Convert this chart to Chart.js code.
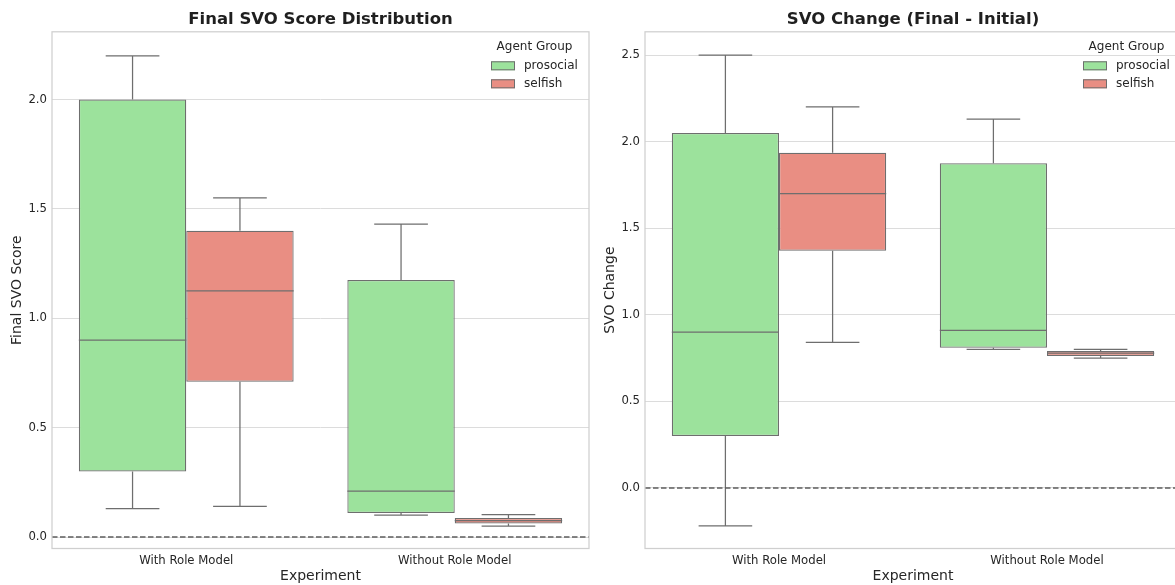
<!DOCTYPE html>
<html>
<head>
<meta charset="utf-8">
<script src="https://cdn.jsdelivr.net/npm/chart.js@4.4.0/dist/chart.umd.min.js"></script>
<style>
  html, body { margin: 0; padding: 0; background: #ffffff; overflow: hidden; width: 1175px; height: 585px; }
  #wrap { position: relative; width: 1175px; height: 585px; overflow: hidden; }
  .panel { position: absolute; top: 0; height: 585px; }
  #p1 { left: 0; width: 595px; }
  #p2 { left: 595px; width: 592px; }
</style>
</head>
<body>
<div id="wrap">
  <div class="panel" id="p1"><canvas id="c1" width="595" height="585"></canvas></div>
  <div class="panel" id="p2"><canvas id="c2" width="592" height="585"></canvas></div>
</div>
<script>
// ---- data ----
const experiments = ['With Role Model', 'Without Role Model'];
const groups = ['prosocial', 'selfish'];
const legendTitle = 'Agent Group';
// five-number summaries per experiment: [whisker low, Q1, median, Q3, whisker high]
const finalProsocial = [[0.13, 0.30, 0.90, 2.00, 2.20], [0.10, 0.11, 0.21, 1.175, 1.43]];
const finalSelfish   = [[0.14, 0.71, 1.125, 1.40, 1.55], [0.05, 0.062, 0.075, 0.087, 0.102]];
const changeProsocial = [[-0.22, 0.30, 0.90, 2.05, 2.50], [0.80, 0.81, 0.91, 1.875, 2.13]];
const changeSelfish   = [[0.84, 1.37, 1.70, 1.935, 2.20], [0.75, 0.762, 0.778, 0.79, 0.80]];
const finalTicks  = [0, 0.5, 1.0, 1.5, 2.0];
const changeTicks = [0, 0.5, 1.0, 1.5, 2.0, 2.5];

// ---- style ----
const FONT = '"DejaVu Sans", "Liberation Sans", sans-serif';
const groupColors = ['#9ce29c', '#e98e83'];
const lineGray = '#6e6e6e';
const textColor = '#262626';

// whiskers, caps, medians, zero reference line, frame and legend
const boxPlugin = {
  id: 'boxWhiskers',
  beforeDatasetsDraw(chart) {
    const ctx = chart.ctx;
    const y = chart.scales.y;
    ctx.save();
    ctx.strokeStyle = lineGray;
    ctx.lineWidth = 1.25;
    chart.data.datasets.forEach((ds, i) => {
      chart.getDatasetMeta(i).data.forEach((el, j) => {
        const s = ds.stats[j];
        const x = el.x, w = el.width;
        const pLo = y.getPixelForValue(s[0]);
        const pQ1 = y.getPixelForValue(s[1]);
        const pQ3 = y.getPixelForValue(s[3]);
        const pHi = y.getPixelForValue(s[4]);
        ctx.beginPath();
        ctx.moveTo(x, pQ3); ctx.lineTo(x, pHi);
        ctx.moveTo(x - w / 4, pHi); ctx.lineTo(x + w / 4, pHi);
        ctx.moveTo(x, pQ1); ctx.lineTo(x, pLo);
        ctx.moveTo(x - w / 4, pLo); ctx.lineTo(x + w / 4, pLo);
        ctx.stroke();
      });
    });
    ctx.restore();
  },
  afterDatasetsDraw(chart) {
    const ctx = chart.ctx;
    const y = chart.scales.y;
    const area = chart.chartArea;
    ctx.save();
    ctx.strokeStyle = lineGray;
    ctx.lineWidth = 1.25;
    chart.data.datasets.forEach((ds, i) => {
      chart.getDatasetMeta(i).data.forEach((el, j) => {
        const pMed = y.getPixelForValue(ds.stats[j][2]);
        ctx.beginPath();
        ctx.moveTo(el.x - el.width / 2, pMed);
        ctx.lineTo(el.x + el.width / 2, pMed);
        ctx.stroke();
      });
    });
    // dashed reference line at zero
    const p0 = y.getPixelForValue(0);
    ctx.strokeStyle = '#5e5e5e';
    ctx.lineWidth = 1.5;
    ctx.setLineDash([5.5, 2.5]);
    ctx.beginPath();
    ctx.moveTo(area.left, p0);
    ctx.lineTo(area.right, p0);
    ctx.stroke();
    ctx.restore();
  },
  afterDraw(chart) {
    const ctx = chart.ctx;
    const a = chart.chartArea;
    ctx.save();
    // plot frame
    ctx.strokeStyle = '#cfcfcf';
    ctx.lineWidth = 1.25;
    ctx.strokeRect(a.left, a.top, a.right - a.left, a.bottom - a.top);
    // legend in the upper right corner
    ctx.fillStyle = textColor;
    ctx.font = '12px ' + FONT;
    ctx.textAlign = 'center';
    ctx.textBaseline = 'middle';
    ctx.fillText(legendTitle, a.right - 54.5, a.top + 15.5);
    ctx.textAlign = 'left';
    chart.data.datasets.forEach((ds, i) => {
      const yy = a.top + 29.5 + i * 18;
      ctx.fillStyle = ds.backgroundColor;
      ctx.fillRect(a.right - 98, yy, 24, 9);
      ctx.strokeStyle = lineGray;
      ctx.lineWidth = 1;
      ctx.strokeRect(a.right - 98 + 0.5, yy + 0.5, 23, 8);
      ctx.fillStyle = textColor;
      ctx.fillText(ds.label, a.right - 65, yy + 4.5);
    });
    ctx.restore();
  }
};

function makeChart(canvasId, title, yTitle, pros, self, tickValues, yMin, yMax, axisWidth, titlePad) {
  const mk = (label, stats, color) => ({
    label: label,
    data: stats.map(s => [s[1], s[3]]),
    stats: stats,
    backgroundColor: color,
    borderColor: lineGray,
    borderWidth: 1.25,
    borderSkipped: false,
    categoryPercentage: 0.8,
    barPercentage: 1.0
  });
  return new Chart(document.getElementById(canvasId), {
    type: 'bar',
    data: {
      labels: experiments,
      datasets: [mk(groups[0], pros, groupColors[0]), mk(groups[1], self, groupColors[1])]
    },
    options: {
      responsive: false,
      animation: false,
      events: [],
      layout: { padding: { right: 6, left: 0, top: 0, bottom: 0 } },
      plugins: {
        legend: { display: false },
        tooltip: { enabled: false },
        title: {
          display: true,
          fullSize: false,
          text: title,
          color: '#1f1f1f',
          font: { family: FONT, size: 16.5, weight: 'bold', lineHeight: 1.2 },
          padding: { top: 9.5, bottom: 2.5 }
        }
      },
      scales: {
        x: {
          grid: { display: false, drawTicks: false },
          border: { display: false },
          ticks: { color: textColor, font: { family: FONT, size: 11.7 }, padding: 5 },
          title: { display: true, text: 'Experiment', color: textColor,
                   font: { family: FONT, size: 14, lineHeight: 1.2 }, padding: { top: 0, bottom: 0 } },
          afterFit: s => { s.height = 36.5; }
        },
        y: {
          min: yMin,
          max: yMax,
          afterBuildTicks: s => { s.ticks = tickValues.map(v => ({ value: v })); },
          grid: { color: '#dcdcdc', lineWidth: 1, drawTicks: false },
          border: { display: false },
          ticks: { color: textColor, font: { family: FONT, size: 11.7 }, padding: 5,
                   callback: v => Number(v).toFixed(1) },
          title: { display: true, text: yTitle, color: textColor,
                   font: { family: FONT, size: 14, lineHeight: 1.2 }, padding: { top: titlePad, bottom: 0 } },
          afterFit: s => { s.width = axisWidth; }
        }
      }
    },
    plugins: [boxPlugin]
  });
}

makeChart('c1', 'Final SVO Score Distribution', 'Final SVO Score',
          finalProsocial, finalSelfish, finalTicks, -0.0525, 2.3095, 52, 8.8);
makeChart('c2', 'SVO Change (Final - Initial)', 'SVO Change',
          changeProsocial, changeSelfish, changeTicks, -0.350, 2.634, 50, 6.9);
</script>
</body>
</html>
